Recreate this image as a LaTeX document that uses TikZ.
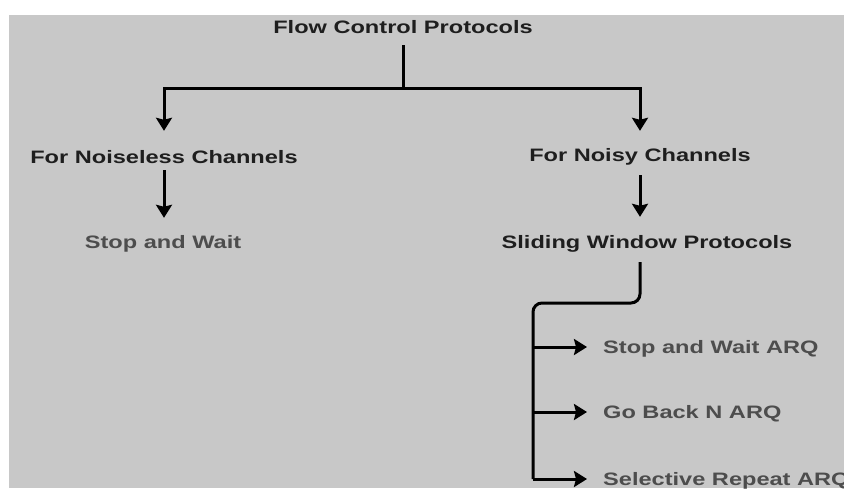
\documentclass[tikz,border=0pt]{standalone}
\usepackage{fontspec}
\usepackage{graphicx}
\setmainfont{Liberation Sans}
\usetikzlibrary{arrows.meta}
\definecolor{bggray}{HTML}{C8C8C8}
\definecolor{darktxt}{HTML}{1E1E1E}
\definecolor{graytxt}{HTML}{4D4D4D}
\newcommand\stxt[1]{\scalebox{1.31}[1]{#1}}
\begin{document}
\begin{tikzpicture}[x=1pt,y=-1pt,
  lbl/.style={inner sep=0pt, text height=13pt, text depth=0pt,
    font=\fontsize{18}{20}\selectfont\bfseries},
  dk/.style={lbl, text=darktxt},
  gr/.style={lbl, text=graytxt},
  ln/.style={line width=3pt, black},
  arr/.style={ln, -{Stealth[length=13pt,width=16pt,inset=2pt]}}]
\useasboundingbox (0,0) rectangle (844,488);
\clip (0,0) rectangle (844,488);
\fill[white] (0,0) rectangle (844,488);
\fill[bggray] (9,15) rectangle (844,488);

\node[dk] (title) at (403,27) {\stxt{Flow Control Protocols}};
\node[dk] (noiseless) at (164,157) {\stxt{For Noiseless Channels}};
\node[gr] (sw) at (163,242) {\stxt{Stop and Wait}};
\node[dk] (noisy) at (640,155) {\stxt{For Noisy Channels}};
\node[dk] (slide) at (647,242) {\stxt{Sliding Window Protocols}};
\node[gr, anchor=west] (arq1) at (603,347) {\stxt{Stop and Wait ARQ}};
\node[gr, anchor=west] (arq2) at (603,412) {\stxt{Go Back N ARQ}};
\node[gr, anchor=west] (arq3) at (603,479) {\stxt{Selective Repeat ARQ}};

\coordinate (j) at (403,88);
\coordinate (bus) at (533,303);
\coordinate (busend) at (533,479);

\draw[ln, shorten <=11.5pt] (title.south) -- (j);
\draw[arr, shorten >=19.5pt] (j) -| (noiseless.north);
\draw[arr, shorten >=17.5pt] (j) -| (noisy.north);
\draw[arr, shorten <=6.5pt, shorten >=17.5pt] (noiseless.south) -- (noiseless.south |- sw.north);
\draw[arr, shorten <=13.5pt, shorten >=18.5pt] (noisy.south) -- (noisy.south |- slide.north);
\draw[ln, rounded corners=9pt] ([yshift=-13.5pt]noisy.south |- slide.south) -- (noisy.south |- bus) -- (bus) -- (busend);
\draw[arr, shorten >=16pt] (bus |- arq1.west) -- (arq1.west);
\draw[arr, shorten >=16pt] (bus |- arq2.west) -- (arq2.west);
\draw[arr, shorten >=16pt] (busend) -- (arq3.west);
\end{tikzpicture}
\end{document}
